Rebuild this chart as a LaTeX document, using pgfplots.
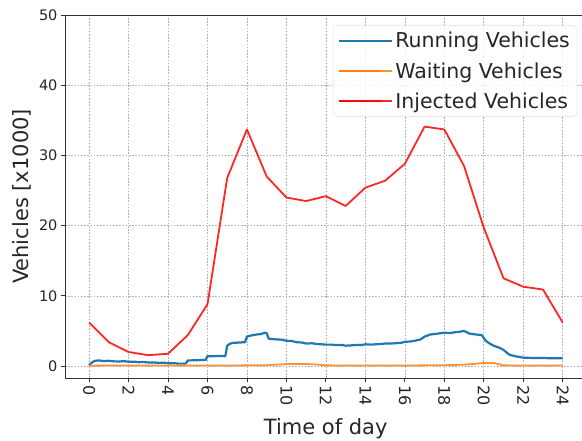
\documentclass[border=0pt]{standalone}
\usepackage{pgfplots}
\pgfplotsset{compat=1.18}
\usepackage{fontspec}
\setmainfont{DejaVu Sans}
\definecolor{mblue}{HTML}{1F77B4}
\definecolor{morange}{HTML}{FF7F0E}
\definecolor{mred}{HTML}{FF0000}
\begin{document}
\begin{tikzpicture}
\begin{axis}[
  at={(0pt,0pt)}, anchor=south west,
  scale only axis, width=521.4pt, height=363pt,
  xmin=-1.22, xmax=25.2, ymin=-1.7, ymax=50,
  xtick={0,2,...,24}, ytick={0,10,...,50},
  tick align=outside, tick pos=left,
  major tick length=4pt,
  tick style={black!80, line width=0.8pt},
  axis line style={black!80, line width=0.8pt},
  grid=major,
  major grid style={dash pattern=on 1.6pt off 1.6pt, gray!60, line width=0.6pt},
  /pgf/number format/assume math mode=true,
  yticklabel style={font=\fontsize{14.5}{17}\selectfont, text=black!85},
  xticklabel style={font=\fontsize{16}{18}\selectfont, text=black!85, rotate=-90, anchor=west},
  xlabel={Time of day},
  ylabel={Vehicles [x1000]},
  label style={font=\fontsize{21}{24}\selectfont, text=black!85},
  xlabel style={at={(axis description cs:0.5,-0.157)}, anchor=base},
  ylabel style={at={(axis description cs:-0.0834,0.5)}, anchor=center},
  legend cell align=left,
  legend style={at={(0.982,0.972)}, anchor=north east,
    font=\fontsize{20.5}{24}\selectfont, text=black!85,
    draw=gray!25, rounded corners=4pt, fill=white, fill opacity=0.8, text opacity=1,
    inner xsep=5pt, inner ysep=5pt, row sep=9pt},
  legend image code/.code={\draw[#1] (0pt,0pt) -- (42pt,0pt); \path (0pt,0pt) -- (53pt,0pt);},
]
\addplot[mblue, line width=2.2pt, line join=round] coordinates {
(0,0.1) (0.1,0.4) (0.2,0.6) (0.3,0.75) (0.5,0.8) (0.7,0.72) (1.0,0.75) (1.2,0.68) (1.5,0.65) (1.8,0.7) (2.0,0.6) (2.3,0.62) (2.5,0.55) (2.8,0.58) (3.0,0.5) (3.3,0.52) (3.5,0.45) (3.8,0.48) (4.0,0.4) (4.3,0.42) (4.5,0.35) (4.9,0.35)
(5.0,0.8) (5.3,0.82) (5.6,0.85) (5.9,0.85) (6.0,1.4) (6.3,1.4) (6.6,1.45) (6.9,1.4)
(7.0,2.9) (7.15,3.2) (7.3,3.3) (7.6,3.35) (7.9,3.4) (8.0,4.2) (8.2,4.35) (8.5,4.5) (8.7,4.55) (8.9,4.75) (9.0,4.7) (9.1,3.9) (9.3,3.85) (9.5,3.8) (9.8,3.75) (10.0,3.6) (10.3,3.55) (10.5,3.4) (10.8,3.35) (11.0,3.2) (11.3,3.25) (11.5,3.15) (11.8,3.1) (12.0,3.05) (12.3,3.05) (12.5,3.0) (12.8,3.0) (13.0,2.9) (13.3,2.95) (13.5,3.0) (13.8,3.0) (14.0,3.1) (14.3,3.05) (14.5,3.1) (14.8,3.15) (15.0,3.2) (15.3,3.2) (15.5,3.25) (15.8,3.3) (16.0,3.45) (16.3,3.5) (16.5,3.6) (16.8,3.8) (17.0,4.2) (17.3,4.5) (17.6,4.6) (18.0,4.75) (18.3,4.7) (18.5,4.8) (18.8,4.9) (19.0,5.0) (19.3,4.6) (19.6,4.5) (19.9,4.4) (20.1,3.6) (20.3,3.2) (20.5,2.9) (20.8,2.6) (21.0,2.3) (21.3,1.6) (21.6,1.4) (22.0,1.2) (22.5,1.15) (23.0,1.15) (23.5,1.1) (24.0,1.1)
};
\addlegendentry{Running Vehicles}
\addplot[morange, opacity=0.85, line width=1.8pt] coordinates {
(0,0.05) (1,0.08) (2,0.08) (3,0.08) (4,0.08) (5,0.08) (6,0.08) (7,0.08) (8,0.1) (9,0.12) (9.5,0.2) (10,0.28) (11,0.3) (11.5,0.22) (12,0.1) (13,0.08) (14,0.08) (15,0.08) (16,0.08) (17,0.1) (18,0.12) (19,0.2) (19.5,0.3) (20,0.45) (20.5,0.45) (21,0.1) (22,0.08) (23,0.08) (24,0.08)
};
\addlegendentry{Waiting Vehicles}
\addplot[mred, opacity=0.85, line width=1.8pt, line join=round] coordinates {
(0,6.2) (1,3.4) (2,2.0) (3,1.55) (4,1.75) (5,4.4) (6,8.8) (7,26.8) (8,33.7) (9,27.0) (10,24.0) (11,23.5) (12,24.2) (13,22.8) (14,25.4) (15,26.4) (16,28.8) (17,34.1) (18,33.7) (19,28.5) (20,19.7) (21,12.5) (22,11.3) (23,10.9) (24,6.2)
};
\addlegendentry{Injected Vehicles}
\end{axis}
\pgfresetboundingbox
\path[use as bounding box] (-65pt,-63pt) rectangle (517pt,378pt);
\end{tikzpicture}
\end{document}
